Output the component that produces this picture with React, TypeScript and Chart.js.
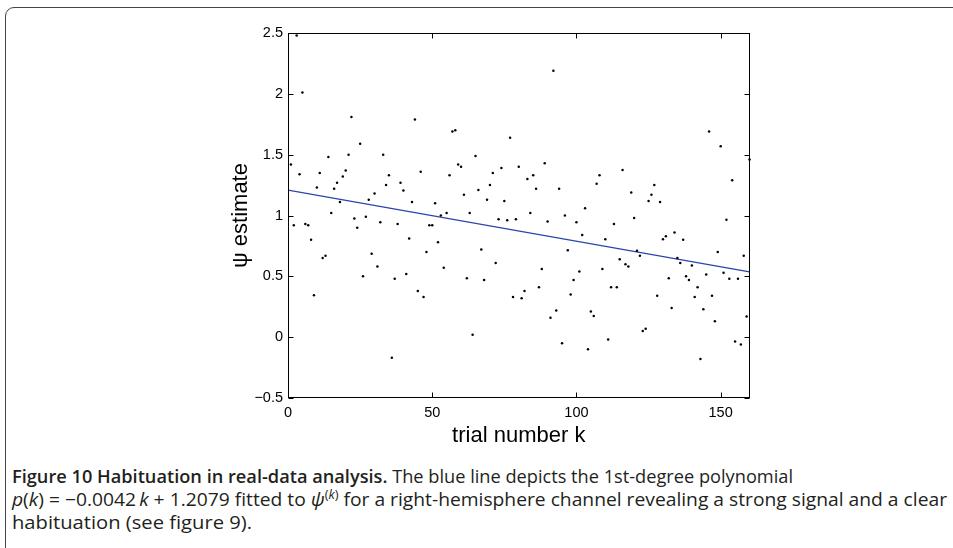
import React, { useEffect, useLayoutEffect, useRef } from 'react';
import { Chart, registerables } from 'chart.js';

Chart.register(...registerables);

// ψ estimate for each trial; trial number k = index + 1 (k = 1 … 160)
const PSI: number[] = [
  1.42, 0.92, 2.48, 1.34, 2.01, 0.93, 0.92, 0.8, 0.345, 1.23,
  1.35, 0.65, 0.67, 1.48, 1.02, 1.22, 1.27, 1.11, 1.32, 1.37,
  1.5, 1.81, 0.975, 0.9, 1.59, 0.5, 0.99, 1.13, 0.685, 1.18,
  0.58, 0.945, 1.5, 1.25, 1.33, -0.17, 0.48, 0.93, 1.27, 1.205,
  0.52, 0.81, 1.11, 1.79, 0.38, 1.36, 0.33, 0.7, 0.92, 0.92,
  1.1, 0.78, 1.0, 0.57, 1.02, 1.33, 1.69, 1.7, 1.42, 1.4,
  1.17, 0.485, 1.02, 0.02, 1.49, 1.21, 0.72, 0.47, 1.13, 1.25,
  1.35, 0.61, 0.97, 1.39, 1.12, 0.96, 1.64, 0.33, 0.97, 1.4,
  0.32, 0.38, 1.3, 1.02, 1.33, 1.22, 0.41, 0.56, 1.43, 0.95,
  0.16, 2.19, 0.22, 1.22, -0.05, 1.0, 0.715, 0.35, 0.47, 0.945,
  0.54, 0.84, 1.06, -0.1, 0.21, 0.175, 1.26, 1.33, 0.56, 0.805,
  -0.02, 0.41, 0.93, 0.41, 0.64, 1.375, 0.6, 0.58, 1.19, 0.98,
  0.71, 0.67, 0.05, 0.07, 1.12, 1.17, 1.25, 0.34, 1.11, 0.805,
  0.83, 0.485, 0.24, 0.86, 0.65, 0.61, 0.8, 0.5, 0.47, 0.59,
  0.33, 0.41, -0.18, 0.23, 0.515, 1.69, 0.34, 0.13, 0.7, 1.57,
  0.53, 0.965, 0.48, 1.29, -0.035, 0.48, -0.06, 0.67, 0.17, 1.46,
];

// first-degree polynomial fit p(k) = a·k + b
const FIT_SLOPE = -0.0042;
const FIT_INTERCEPT = 1.2079;
const FIT_K_RANGE: number[] = [0, 160];

const X_RANGE: number[] = [0, 160];
const Y_RANGE: number[] = [-0.5, 2.5];
const X_TICKS: number[] = [0, 50, 100, 150];
const Y_TICKS: number[] = [-0.5, 0, 0.5, 1, 1.5, 2, 2.5];

const X_TITLE = 'trial number k';
const Y_TITLE = 'ψ estimate';

const AXIS_FONT = '"Liberation Sans", Arial, Helvetica, sans-serif';
const CAPTION_FONT = '"Open Sans", "Noto Sans", sans-serif';

// right edge of each caption line (the text column starts at x = 12)
const CAPTION_LINE_ENDS = [793, 947, 252];
const CAPTION_LEFT = 12;

const fmtTick = (v: number) => (v < 0 ? '\u2212' + String(Math.abs(v)) : String(v));
const fmtCoef = (v: number) => Math.abs(v).toFixed(4);

// box around the axes with inward tick marks on all four sides, plus axis titles
const matlabFrame = {
  id: 'matlabFrame',
  afterDraw(chart: any) {
    const { ctx, chartArea: a, scales } = chart;
    const xs = scales.x;
    const ys = scales.y;
    const L = Math.round(a.left) + 0.5;
    const R = Math.round(a.right) - 0.5;
    const T = Math.round(a.top) + 0.5;
    const B = Math.round(a.bottom) - 0.5;
    const TL = 5;
    ctx.save();
    ctx.strokeStyle = '#000';
    ctx.lineWidth = 1;
    ctx.strokeRect(L, T, R - L, B - T);
    ctx.beginPath();
    X_TICKS.forEach((v) => {
      const px = Math.round(xs.getPixelForValue(v)) + 0.5;
      ctx.moveTo(px, B);
      ctx.lineTo(px, B - TL);
      ctx.moveTo(px, T);
      ctx.lineTo(px, T + TL);
    });
    Y_TICKS.forEach((v) => {
      const py = Math.round(ys.getPixelForValue(v)) + 0.5;
      ctx.moveTo(L, py);
      ctx.lineTo(L + TL, py);
      ctx.moveTo(R, py);
      ctx.lineTo(R - TL, py);
    });
    ctx.stroke();

    ctx.fillStyle = '#000';
    ctx.font = `22px ${AXIS_FONT}`;
    ctx.textAlign = 'center';
    ctx.textBaseline = 'alphabetic';
    ctx.fillText(X_TITLE, (a.left + a.right) / 2, a.bottom + 44);
    ctx.translate(a.left - 41, (a.top + a.bottom) / 2);
    ctx.rotate(-Math.PI / 2);
    ctx.fillText(Y_TITLE, 0, 0);
    ctx.restore();
  },
};

function PsiChart() {
  const ref = useRef<HTMLCanvasElement | null>(null);

  useEffect(() => {
    if (!ref.current) return;
    const points = PSI.map((v, i) => ({ x: i + 1, y: v }));
    const fit = FIT_K_RANGE.map((k) => ({ x: k, y: FIT_SLOPE * k + FIT_INTERCEPT }));

    const tickFont = { family: AXIS_FONT, size: 14.5 };

    const chart = new Chart(ref.current, {
      type: 'scatter',
      data: {
        datasets: [
          {
            data: points,
            pointRadius: 1.25,
            pointBorderWidth: 0,
            pointBackgroundColor: '#000',
            showLine: false,
            clip: 4,
          },
          {
            data: fit,
            showLine: true,
            borderColor: '#2a44aa',
            borderWidth: 1.2,
            pointRadius: 0,
            fill: false,
          },
        ],
      },
      options: {
        animation: false,
        responsive: false,
        maintainAspectRatio: false,
        layout: { padding: { left: 200, top: 33, right: 203.5, bottom: 0 } },
        plugins: { legend: { display: false }, tooltip: { enabled: false } },
        scales: {
          x: {
            type: 'linear',
            min: X_RANGE[0],
            max: X_RANGE[1],
            afterBuildTicks: (s: any) => {
              s.ticks = X_TICKS.map((v) => ({ value: v }));
            },
            afterFit: (s: any) => {
              s.height = 52;
            },
            grid: { display: false, drawTicks: false },
            border: { display: false },
            ticks: {
              font: tickFont,
              color: '#000',
              padding: 6,
              maxRotation: 0,
              autoSkip: false,
              callback: (v: any) => fmtTick(Number(v)),
            },
          },
          y: {
            type: 'linear',
            min: Y_RANGE[0],
            max: Y_RANGE[1],
            afterBuildTicks: (s: any) => {
              s.ticks = Y_TICKS.map((v) => ({ value: v }));
            },
            afterFit: (s: any) => {
              s.width = 88;
            },
            grid: { display: false, drawTicks: false },
            border: { display: false },
            ticks: {
              font: tickFont,
              color: '#000',
              padding: 5,
              autoSkip: false,
              callback: (v: any) => fmtTick(Number(v)),
            },
          },
        },
      },
      plugins: [matlabFrame],
    } as any);

    return () => chart.destroy();
  }, []);

  return (
    <canvas
      ref={ref}
      width={953}
      height={450}
      style={{ position: 'absolute', left: 0, top: 0, width: 953, height: 450, display: 'block' }}
    />
  );
}

function Caption() {
  const lineRefs = useRef<(HTMLDivElement | null)[]>([]);

  // condense each caption line so it ends where the column does
  useLayoutEffect(() => {
    lineRefs.current.forEach((el, i) => {
      if (!el) return;
      const w = el.getBoundingClientRect().width;
      const target = CAPTION_LINE_ENDS[i] - CAPTION_LEFT;
      if (w > 0) el.style.transform = `scaleX(${target / w})`;
    });
  }, []);

  const it = { fontStyle: 'italic' } as React.CSSProperties;
  const lineStyle: React.CSSProperties = { display: 'block', width: 'max-content', transformOrigin: '0 0' };
  return (
    <div
      style={{
        position: 'absolute',
        left: CAPTION_LEFT,
        top: 465,
        fontFamily: CAPTION_FONT,
        fontSize: 18,
        lineHeight: '23px',
        color: '#231f20',
        whiteSpace: 'nowrap',
      }}
    >
      <div ref={(el) => { lineRefs.current[0] = el; }} style={lineStyle}>
        <span style={{ fontWeight: 600 }}>Figure 10 Habituation in real-data analysis.</span> The blue line depicts
        the 1st-degree polynomial
      </div>
      <div ref={(el) => { lineRefs.current[1] = el; }} style={lineStyle}>
        <span style={it}>p</span>(<span style={it}>k</span>)&nbsp;=&nbsp;{'\u2212'}
        {fmtCoef(FIT_SLOPE)}&thinsp;<span style={it}>k</span>&nbsp;+&nbsp;{fmtCoef(FIT_INTERCEPT)} fitted to{' '}
        <span style={it}>ψ</span>
        <sup style={{ fontSize: 12, lineHeight: 0, verticalAlign: '0.55em' }}>
          (<span style={it}>k</span>)
        </sup>{' '}
        for a right-hemisphere channel revealing a strong signal and a clear
      </div>
      <div ref={(el) => { lineRefs.current[2] = el; }} style={lineStyle}>
        habituation (see figure 9).
      </div>
    </div>
  );
}

export default function App() {
  return (
    <div
      style={{
        position: 'absolute',
        left: 0,
        top: 0,
        width: 953,
        height: 548,
        overflow: 'hidden',
        background: '#fff',
      }}
    >
      <div
        style={{
          position: 'absolute',
          left: 5,
          top: 7,
          width: 1000,
          height: 700,
          border: '1.5px solid #444',
          borderTopLeftRadius: 9,
          boxSizing: 'border-box',
        }}
      />
      <PsiChart />
      <Caption />
    </div>
  );
}
